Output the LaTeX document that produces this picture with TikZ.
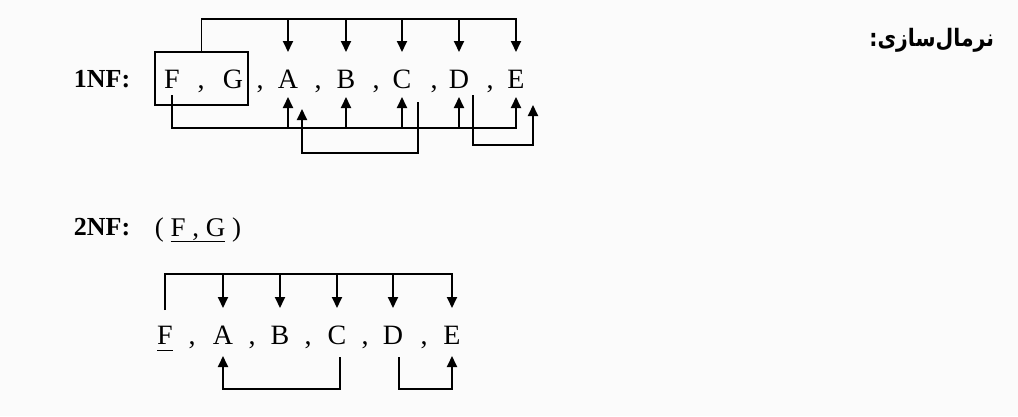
\documentclass[tikz,border=0pt]{standalone}
\usepackage{fontspec}
\setmainfont{Liberation Serif}
\newfontfamily\persianfont[Script=Arabic]{DejaVu Sans}
\TeXXeTstate=1
\usepackage{tikz}
\usetikzlibrary{positioning, arrows.meta}
\tikzstyle{attr} = [inner sep=0pt, anchor=base, font=\fontsize{28}{28}\selectfont]
\tikzstyle{nflabel} = [inner sep=0pt, anchor=base, font=\bfseries\fontsize{26}{26}\selectfont]
\tikzstyle{arrow} = [line width=1.8pt, -{Triangle[length=11pt,width=10pt]}]

\begin{document}
\begin{tikzpicture}[x=1pt, y=-1pt]
\path [fill=gray!3, use as bounding box] (0,0) rectangle (1018,416);

% levels for the connectors
\coordinate (TopOne) at (0,19);
\coordinate (DownTipOne) at (0,52);
\coordinate (FRise) at (0,95);
\coordinate (UpTipOne) at (0,97);
\coordinate (BotOne) at (0,128);
\coordinate (CRise) at (0,102);
\coordinate (UpTipA) at (0,109);
\coordinate (CABot) at (0,153);
\coordinate (DRise) at (0,95);
\coordinate (UpTipE) at (0,105);
\coordinate (DEBot) at (0,145);

\node (Title) [anchor=base east, xscale=0.85, transform shape, font=\persianfont\bfseries\fontsize{24}{24}\selectfont] at (997,46) {\beginR نرمال‌سازی:\endR};

% 1NF
\node (OneNF) [nflabel] at (102,87) {1NF:};
\node (F1) [attr] at (172,88) {F};
\node (G1) [attr] at (233,88) {G};
\node (A1) [attr] at (288,88) {A};
\node (B1) [attr] at (346,88) {B};
\node (C1) [attr] at (402,88) {C};
\node (D1) [attr] at (459,88) {D};
\node (E1) [attr] at (516,88) {E};
\foreach \x [count=\i] in {201,260,318,376,434,490}
  \node (CommaOne\i) [attr] at (\x,88) {,};
\node (KeyBox) [draw, line width=1.6pt, inner sep=0pt, minimum width=93pt, minimum height=53pt] at (201.5,78.5) {};

\draw [arrow] (KeyBox.north) |- (E1 |- TopOne) -- (E1 |- DownTipOne);
\foreach \n in {A1,B1,C1,D1}
  \draw [arrow] (\n |- TopOne) -- (\n |- DownTipOne);

\draw [arrow] (F1 |- FRise) |- (E1 |- BotOne) -- (E1 |- UpTipOne);
\foreach \n in {A1,B1,C1,D1}
  \draw [arrow] (\n |- BotOne) -- (\n |- UpTipOne);
\draw [arrow] ([xshift=16pt]C1 |- CRise) |- ([xshift=14pt]A1 |- CABot) -- ([xshift=14pt]A1 |- UpTipA);
\draw [arrow] ([xshift=14pt]D1 |- DRise) |- ([xshift=17pt]E1 |- DEBot) -- ([xshift=17pt]E1 |- UpTipE);

% 2NF
\coordinate (TopTwo) at (0,274);
\coordinate (FTwoRise) at (0,310);
\coordinate (DownTipTwo) at (0,308);
\coordinate (RiseTwo) at (0,357);
\coordinate (UpTipTwo) at (0,356);
\coordinate (BotTwo) at (0,389);

\node (TwoNF) [nflabel] at (102,235) {2NF:};
\node (KeyTwo) [attr, font=\fontsize{27}{27}\selectfont] at (198,236) {( \underline{F , G} )};
\node (F2) [attr] at (165,344) {\underline{F\vphantom{,}}};
\node (A2) [attr] at (223,344) {A};
\node (B2) [attr] at (280,344) {B};
\node (C2) [attr] at (337,344) {C};
\node (D2) [attr] at (393,344) {D};
\node (E2) [attr] at (452,344) {E};
\foreach \x [count=\i] in {192,252,308,365,424}
  \node (CommaTwo\i) [attr] at (\x,344) {,};

\draw [arrow] (F2 |- FTwoRise) |- (E2 |- TopTwo) -- (E2 |- DownTipTwo);
\foreach \n in {A2,B2,C2,D2}
  \draw [arrow] (\n |- TopTwo) -- (\n |- DownTipTwo);

\draw [arrow] ([xshift=3pt]C2 |- RiseTwo) |- (A2 |- BotTwo) -- (A2 |- UpTipTwo);
\draw [arrow] ([xshift=6pt]D2 |- RiseTwo) |- (E2 |- BotTwo) -- (E2 |- UpTipTwo);
\end{tikzpicture}
\end{document}
